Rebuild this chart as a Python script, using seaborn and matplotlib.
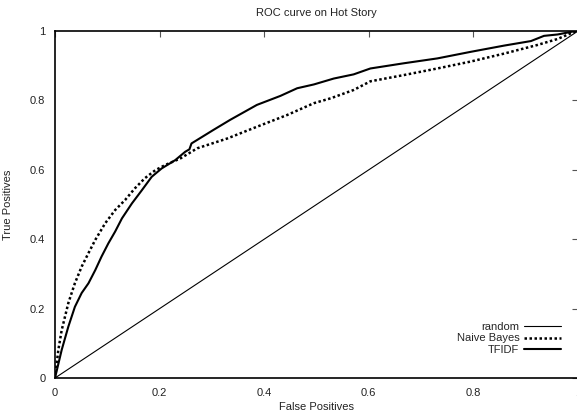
'''
ROC curve on Hot Story (gnuplot-like look)
'''

import matplotlib
matplotlib.use('Agg')
import matplotlib.pyplot as plt
import pandas as pd
import seaborn as sns

# values
random_fp = [0.0, 1.0]
random_tp = [0.0, 1.0]

nb_fp = [0, 0.0064, 0.0128, 0.0255, 0.038, 0.051, 0.064, 0.077, 0.096, 0.115,
         0.134, 0.153, 0.172, 0.192, 0.211, 0.24, 0.272, 0.329, 0.386, 0.444,
         0.495, 0.527, 0.571, 0.603, 0.667, 0.731, 0.795, 0.859, 0.923, 0.961,
         0.992, 1.0]
nb_tp = [0, 0.081, 0.138, 0.216, 0.273, 0.321, 0.36, 0.398, 0.446, 0.484,
         0.513, 0.547, 0.576, 0.599, 0.614, 0.633, 0.662, 0.69, 0.724, 0.758,
         0.792, 0.806, 0.83, 0.855, 0.873, 0.892, 0.912, 0.935, 0.96, 0.977,
         0.997, 1.0]

tfidf_fp = [0, 0.0128, 0.0255, 0.038, 0.051, 0.064, 0.077, 0.089, 0.102, 0.115,
            0.128, 0.147, 0.166, 0.185, 0.204, 0.23, 0.249, 0.257, 0.261, 0.303,
            0.335, 0.386, 0.431, 0.463, 0.495, 0.533, 0.571, 0.603, 0.667, 0.731,
            0.795, 0.859, 0.91, 0.935, 0.961, 0.992, 1.0]
tfidf_tp = [0, 0.081, 0.148, 0.205, 0.245, 0.273, 0.311, 0.35, 0.388, 0.422,
            0.46, 0.503, 0.541, 0.58, 0.604, 0.628, 0.652, 0.659, 0.676, 0.715,
            0.744, 0.787, 0.813, 0.835, 0.846, 0.863, 0.875, 0.892, 0.907, 0.921,
            0.94, 0.958, 0.971, 0.986, 0.99, 0.999, 1.0]

tick_vals = [0, 0.2, 0.4, 0.6, 0.8, 1.0]
tick_labels = ['0', '0.2', '0.4', '0.6', '0.8', '1']

sns.set_style('white')
plt.rcParams['font.family'] = ['Liberation Sans', 'DejaVu Sans']
plt.rcParams['font.size'] = 8

fig = plt.figure(figsize=(5.77, 4.15), dpi=100)
ax = fig.add_axes([55 / 577, 37 / 415, 523 / 577, 347 / 415])

sns.lineplot(x=random_fp, y=random_tp, ax=ax, color='black', lw=0.8,
             label='random', sort=False)
sns.lineplot(x=nb_fp, y=nb_tp, ax=ax, color='black', lw=1.8,
             linestyle=(0, (1, 1)), label='Naive Bayes', sort=False)
sns.lineplot(x=tfidf_fp, y=tfidf_tp, ax=ax, color='black', lw=1.5,
             label='TFIDF', sort=False)

ax.set_xlim(0, 1)
ax.set_ylim(0, 1)
ax.set_xticks(tick_vals)
ax.set_xticklabels(tick_labels)
ax.set_yticks(tick_vals)
ax.set_yticklabels(tick_labels)
ax.tick_params(direction='in', length=4, width=0.8, color='#555555',
               top=True, right=True, labelsize=8, pad=7, labelcolor='#222222')

for s in ax.spines.values():
    s.set_visible(True)
    s.set_color('black')
    s.set_linewidth(1.2)

ax.set_title('ROC curve on Hot Story', fontsize=8, pad=11, color='#222222')
ax.set_xlabel('False Positives', fontsize=8, labelpad=3, color='#222222')
ax.set_ylabel('True Positives', fontsize=8, labelpad=12, color='#222222')

ax.legend(loc='lower right', bbox_to_anchor=(0.978, 0.05), frameon=False,
          markerfirst=False, handlelength=3.3, handletextpad=0.45,
          labelspacing=0.15, borderpad=0, fontsize=8)

fig.savefig('out.png', dpi=100)
